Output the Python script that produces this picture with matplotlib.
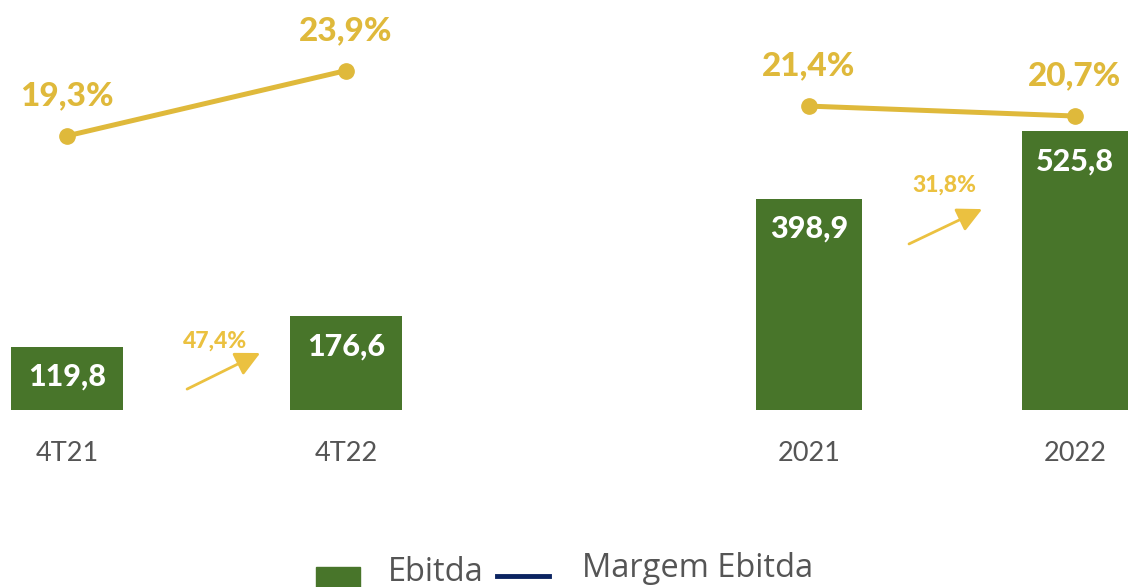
import matplotlib.pyplot as plt
from matplotlib.patches import Rectangle
from matplotlib.lines import Line2D

# quarter panel / year panel
quarters = ['4T21', '4T22']
ebitda_q = [119.8, 176.6]
margem_q = [19.3, 23.9]
growth_q = '47,4%'

years = ['2021', '2022']
ebitda_y = [398.9, 525.8]
margem_y = [21.4, 20.7]
growth_y = '31,8%'

GREEN = '#48752A'
GOLD = '#DFB93B'
ARROW = '#EBC140'
NAVY = '#0B2461'
GREY = '#555555'


def fmt(v, pct=False):
    s = f'{v:.1f}'.replace('.', ',')
    return s + '%' if pct else s


def panel(ax, cats, bars, line, growth, arrow_from, arrow_to, txt_pos, xmax):
    x = list(range(len(cats)))
    ax.bar(x, bars, width=0.4, color=GREEN)
    ax.set_xlim(-0.24, xmax)
    ax.set_ylim(0, 774)
    ax.set_xticks(x, cats)
    ax.tick_params(axis='x', length=0, pad=22, labelsize=19.5, labelcolor=GREY)
    for lab in ax.get_xticklabels():
        lab.set_family('Lato')
    ax.set_yticks([])
    for s in ax.spines.values():
        s.set_visible(False)
    for xi, v in zip(x, bars):
        ax.annotate(fmt(v), (xi, v), xytext=(0, -30), textcoords='offset pixels',
                    ha='center', va='center', color='white', fontsize=22,
                    fontweight='black', family='Lato')

    ax2 = ax.twinx()
    ax2.set_ylim(0, 28.87)
    ax2.axis('off')
    ax2.plot(x, line, color=GOLD, lw=3.6, marker='o', ms=11, clip_on=False)
    for xi, v in zip(x, line):
        ax2.annotate(fmt(v, True), (xi, v), xytext=(0, 40), textcoords='offset pixels',
                     ha='center', va='center', color=GOLD, fontsize=24,
                     fontweight='black', family='Lato')

    ax.annotate('', xy=arrow_to, xytext=arrow_from, xycoords='axes fraction',
                textcoords='axes fraction',
                arrowprops=dict(arrowstyle='-|>,head_length=0.5,head_width=0.25',
                                color=ARROW, lw=2, mutation_scale=30,
                                shrinkA=0, shrinkB=0))
    ax.text(*txt_pos, growth, transform=ax.transAxes, ha='center', va='center',
            color=ARROW, fontsize=16.5, fontweight='black', family='Lato')


fig = plt.figure(figsize=(11.3, 5.87), dpi=100)
bottom = (587 - 410) / 587
height = 410 / 587
ax_l = fig.add_axes([0, bottom, 413 / 1130, height])
ax_r = fig.add_axes([745 / 1130, bottom, 385 / 1130, height])

panel(ax_l, quarters, ebitda_q, margem_q, growth_q,
      (0.453, 0.051), (0.630, 0.139), (0.52, 0.168), 1.24)
panel(ax_r, years, ebitda_y, margem_y, growth_y,
      (0.426, 0.405), (0.616, 0.49), (0.517, 0.549), 1.207)

# legend, drawn by hand to keep its spacing
W, H = 1130, 587
fig.patches.append(Rectangle((316 / W, 0), 44 / W, 20 / H, transform=fig.transFigure,
                             color=GREEN, figure=fig))
fig.text(388 / W, 6 / H, 'Ebitda', ha='left', va='baseline', fontsize=23.5,
         color=GREY, family='Open Sans')
fig.lines.append(Line2D([497 / W, 549 / W], [11 / H, 11 / H], transform=fig.transFigure,
                        color=NAVY, lw=3.5, figure=fig))
fig.text(582 / W, 10 / H, 'Margem Ebitda', ha='left', va='baseline', fontsize=23.5,
         color=GREY, family='Open Sans')

fig.savefig('out.png', dpi=100)
